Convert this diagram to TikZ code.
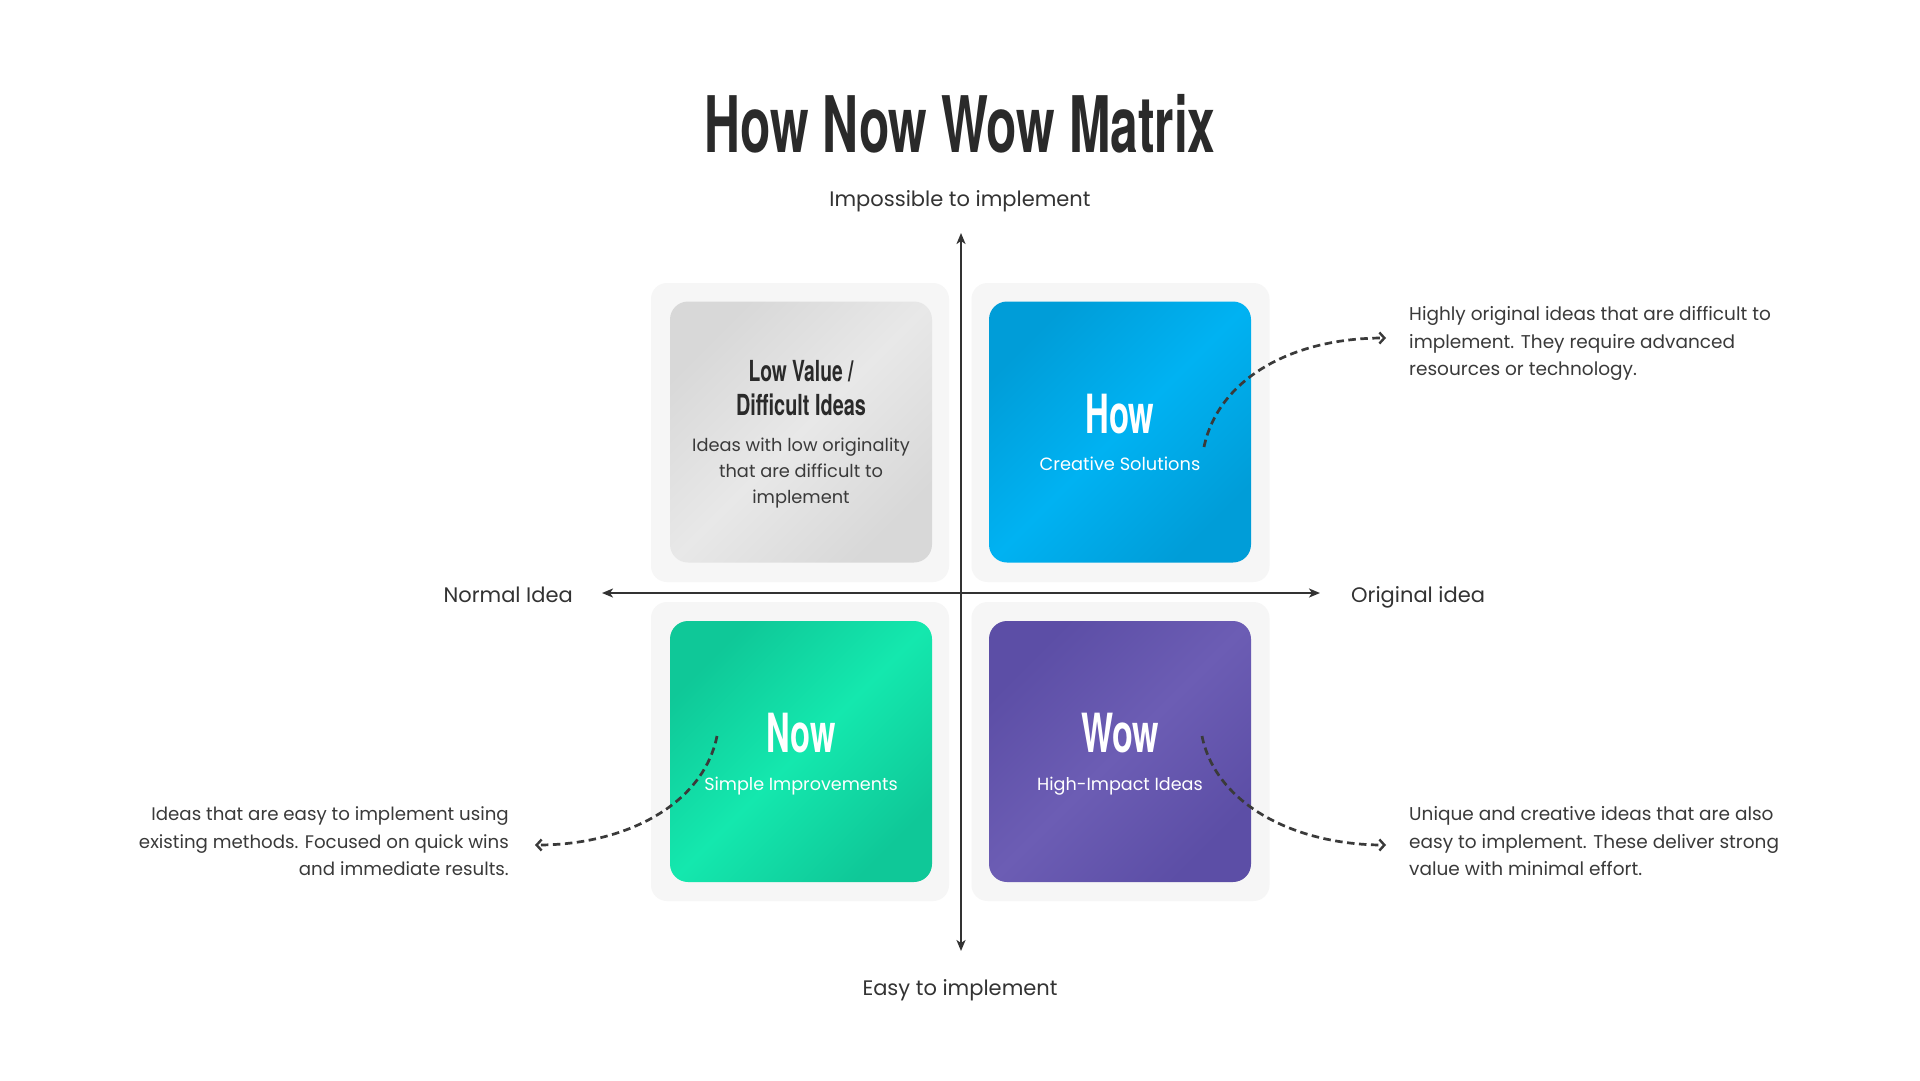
\documentclass[tikz,border=0pt]{standalone}
\usepackage{fontspec}
\usepackage{graphicx}
\setmainfont{Poppins}
\newfontfamily\headfont{TeX Gyre Heros}
\usetikzlibrary{arrows.meta}
\definecolor{ink}{HTML}{2A2A2A}
\definecolor{txtc}{HTML}{3A3A3A}
\definecolor{axisc}{HTML}{333333}
\definecolor{panelc}{HTML}{F6F6F6}
\definecolor{grayD}{HTML}{D8D8D8}
\definecolor{grayL}{HTML}{E8E8E8}
\definecolor{blueD}{HTML}{009DD8}
\definecolor{blueL}{HTML}{00B2F2}
\definecolor{greenD}{HTML}{0FC898}
\definecolor{greenL}{HTML}{14E8AE}
\definecolor{purpD}{HTML}{5C4EA6}
\definecolor{purpL}{HTML}{6C5DB4}
\newcommand{\fitw}[2]{\resizebox{#1}{\height}{#2}}
\begin{document}
\begin{tikzpicture}[x=1pt,y=-1pt,
  panel/.style={fill=panelc, draw=none, rounded corners=16pt, minimum width=298pt, minimum height=299pt, inner sep=0pt},
  card/.style n args={2}{draw=none, rounded corners=18pt, minimum width=262pt, minimum height=261pt, inner sep=0pt, top color=#1, bottom color=#1, middle color=#2, shading angle=45},
  headtxt/.style={anchor=base, inner sep=0pt, font=\headfont\bfseries\fontsize{#1}{#1}\selectfont},
  bodytxt/.style={inner sep=0pt, text=txtc, font=\fontsize{#1}{#1}\selectfont},
  axisline/.style={draw=axisc, line width=2.5pt, arrows={Stealth[length=11pt,width=9pt,inset=3pt]-Stealth[length=11pt,width=9pt,inset=3pt]}},
  dashline/.style={draw=txtc, line width=2.7pt, dash pattern=on 7.5pt off 4.5pt, arrows={-Straight Barb[length=5pt,width=11pt,line width=2.4pt]}}
]
\fill[white] (0,0) rectangle (1920,1080);
\useasboundingbox (0,0) rectangle (1920,1080);

% title
\node[headtxt=78, text=ink] (title) at (960,152) {\fitw{511pt}{How Now Wow Matrix}};

% panels
\node[panel] (pTL) at (800,432.5) {};
\node[panel] (pTR) at (1120.5,432.5) {};
\node[panel] (pBL) at (800,751.5) {};
\node[panel] (pBR) at (1120.5,751.5) {};

% cards
\node[card={grayD}{grayL}] (cTL) at (801,432) {};
\node[card={blueD}{blueL}] (cTR) at (1120,432) {};
\node[card={greenD}{greenL}] (cBL) at (801,751.5) {};
\node[card={purpD}{purpL}] (cBR) at (1120,751.5) {};

% axes
\coordinate (vtop) at (961,233);
\coordinate (vbot) at (961,951);
\coordinate (hl) at (602,593);
\coordinate (hr) at (1320,593);
\draw[axisline] (vbot) -- (vtop);
\draw[axisline] (hl) -- (hr);

% axis labels
\node[bodytxt=21, anchor=base, text=axisc] (lTop) at (960,206) {Impossible to implement};
\node[bodytxt=21, anchor=base, text=axisc] (lBot) at (960,995) {Easy to implement};
\node[bodytxt=21, anchor=base east, text=axisc] (lLeft) at (573,602) {Normal Idea};
\node[bodytxt=21, anchor=base west, text=axisc] (lRight) at (1351,602) {Original idea};

% top-left card text
\node[headtxt=29, text=ink] (tl1) at (801,381) {\fitw{105pt}{Low Value /}};
\node[headtxt=29, text=ink] (tl2) at (801,415) {\fitw{130pt}{Difficult Ideas}};
\node[bodytxt=17.8, anchor=base] (tl3) at (801,451) {Ideas with low originality};
\node[bodytxt=17.8, anchor=base] (tl4) at (801,477) {that are difficult to};
\node[bodytxt=17.8, anchor=base] (tl5) at (801,503) {implement};

% top-right card text
\node[headtxt=54, text=white] (tr1) at (1120,433) {\fitw{69pt}{How}};
\node[bodytxt=17.8, anchor=base, text=white] (tr2) at (1120,470) {Creative Solutions};

% bottom-left card text
\node[headtxt=54, text=white] (bl1) at (801,752) {\fitw{69pt}{Now}};
\node[bodytxt=17.6, anchor=base, text=white] (bl2) at (801,790) {Simple Improvements};

% bottom-right card text
\node[headtxt=54, text=white] (br1) at (1120,752) {\fitw{78pt}{Wow}};
\node[bodytxt=17.6, anchor=base, text=white] (br2) at (1120,790) {High-Impact Ideas};

% descriptions
\node[bodytxt=18.5, anchor=base west] (dTR1) at (1409,320) {Highly original ideas that are difficult to};
\node[bodytxt=18.5, anchor=base west] (dTR2) at (1409,348) {implement. They require advanced};
\node[bodytxt=18.5, anchor=base west] (dTR3) at (1409,375) {resources or technology.};

\node[bodytxt=18.5, anchor=base west] (dBR1) at (1409,820) {Unique and creative ideas that are also};
\node[bodytxt=18.5, anchor=base west] (dBR2) at (1409,848) {easy to implement. These deliver strong};
\node[bodytxt=18.5, anchor=base west] (dBR3) at (1409,875) {value with minimal effort.};

\node[bodytxt=18.2, anchor=base east] (dBL1) at (509,820) {Ideas that are easy to implement using};
\node[bodytxt=18.2, anchor=base east] (dBL2) at (509,848) {existing methods. Focused on quick wins};
\node[bodytxt=18.2, anchor=base east] (dBL3) at (509,875) {and immediate results.};

% dashed connectors
\coordinate (sTR) at (1204,447);
\coordinate (eTR) at (1386,338);
\coordinate (sBL) at (717,736);
\coordinate (eBL) at (535,845);
\coordinate (sBR) at (1202,736);
\coordinate (eBR) at (1386,845);
\draw[dashline] (sTR) .. controls (1218,380) and (1290,338) .. (eTR);
\draw[dashline] (sBL) .. controls (703,805) and (625,845) .. (eBL);
\draw[dashline] (sBR) .. controls (1216,805) and (1296,845) .. (eBR);
\end{tikzpicture}
\end{document}
